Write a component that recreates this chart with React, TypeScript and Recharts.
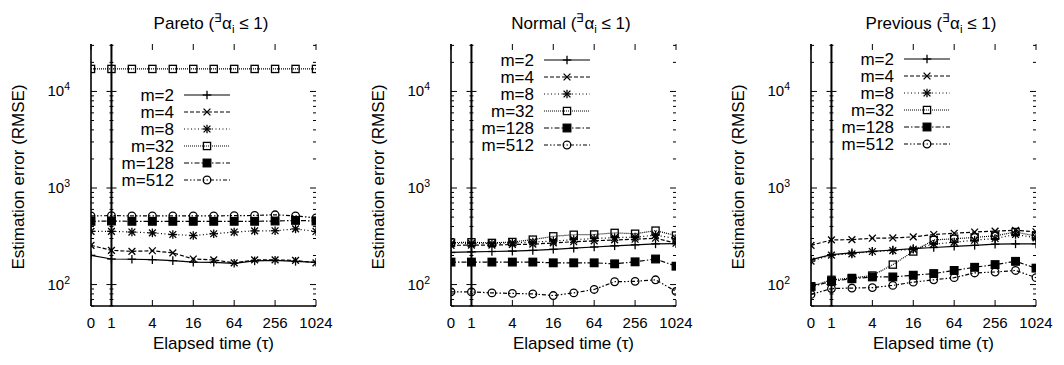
import React from 'react';
import { LineChart, Line, XAxis, YAxis, ReferenceLine } from 'recharts';

// elapsed time values (tau) at which each estimate was taken
const elapsed = [0, 1, 2, 4, 8, 16, 32, 64, 128, 256, 512, 1024];
const xTickLabels = [0, 1, 4, 16, 64, 256, 1024];
const yTicks = [
  60, 70, 80, 90, 100, 200, 300, 400, 500, 600, 700, 800, 900,
  1000, 2000, 3000, 4000, 5000, 6000, 7000, 8000, 9000, 10000, 20000, 30000,
];

// Pareto
const paretoM2 = [201, 184, 183, 181, 177, 171, 170, 166, 176, 178, 174, 170];
const paretoM4 = [255, 226, 221, 224, 213, 184, 180, 168, 180, 180, 178, 168];
const paretoM8 = [356, 356, 350, 343, 330, 322, 336, 350, 360, 361, 377, 355];
const paretoM32 = [17100, 17100, 17100, 17100, 17100, 17100, 17100, 17100, 17100, 17100, 17100, 17100];
const paretoM128 = [452, 455, 452, 452, 452, 452, 452, 452, 452, 455, 462, 455];
const paretoM512 = [515, 517, 515, 515, 515, 515, 515, 517, 520, 528, 515, 490];

// Normal
const normalM2 = [215, 218, 220, 222, 226, 232, 238, 245, 252, 258, 264, 265];
const normalM4 = [255, 256, 256, 260, 262, 270, 278, 284, 290, 295, 302, 268];
const normalM8 = [265, 268, 266, 270, 276, 282, 292, 300, 306, 310, 325, 300];
const normalM32 = [272, 274, 270, 276, 292, 316, 328, 330, 343, 336, 362, 322];
const normalM128 = [171, 171, 171, 171, 171, 168, 168, 168, 164, 172, 184, 155];
const normalM512 = [84, 84, 82, 81, 80, 77, 82, 89, 107, 108, 112, 85];

// Previous
const previousM2 = [181, 204, 213, 221, 228, 236, 242, 249, 255, 262, 264, 264];
const previousM4 = [255, 290, 292, 302, 304, 312, 330, 340, 350, 358, 365, 352];
const previousM8 = [175, 202, 208, 220, 225, 232, 262, 275, 288, 300, 330, 305];
const previousM32 = [96, 112, 117, 124, 161, 220, 290, 298, 308, 320, 350, 318];
const previousM128 = [95, 108, 115, 120, 120, 125, 130, 140, 151, 161, 174, 148];
const previousM512 = [79, 91, 92, 93, 98, 106, 112, 118, 132, 135, 140, 118];

const FONT = '"Liberation Sans", Arial, Helvetica, sans-serif';
const LABEL_SIZE = 17;
const TICK_SIZE = 15;
const CHART_W = 360;
const CHART_H = 365;
const MARGIN = { top: 44, right: 44, bottom: 0, left: 0 };
const Y_AXIS_W = 91;
const X_AXIS_H = 59;
const PLOT_W = CHART_W - MARGIN.right - Y_AXIS_W;
const PLOT_H = CHART_H - MARGIN.top - X_AXIS_H;
const X_MIN = -1;
const X_MAX = 10;

// tau = 0 sits one step left of tau = 1 on the log2 axis
const toPos = (t: number) => (t === 0 ? -1 : Math.log2(t));

const seriesStyles = [
  { key: 'm2', label: 'm=2', dash: undefined, marker: 'plus' },
  { key: 'm4', label: 'm=4', dash: '4 2', marker: 'cross' },
  { key: 'm8', label: 'm=8', dash: '1 2.5', marker: 'star' },
  { key: 'm32', label: 'm=32', dash: '1 1', marker: 'square' },
  { key: 'm128', label: 'm=128', dash: '5 2 1.5 2', marker: 'fsquare' },
  { key: 'm512', label: 'm=512', dash: '4 2 1.5 2 1.5 2', marker: 'circle' },
];

const panels = [
  { title: 'Pareto', legendTop: 95, values: [paretoM2, paretoM4, paretoM8, paretoM32, paretoM128, paretoM512] },
  { title: 'Normal', legendTop: 60, values: [normalM2, normalM4, normalM8, normalM32, normalM128, normalM512] },
  { title: 'Previous', legendTop: 59, values: [previousM2, previousM4, previousM8, previousM32, previousM128, previousM512] },
];

function Marker({ cx, cy, kind }: { cx: number; cy: number; kind: string }) {
  if (cx == null || cy == null) return null;
  const p = 4.3;
  const c = 3.4;
  const plus = (
    <>
      <line x1={cx - p} y1={cy} x2={cx + p} y2={cy} />
      <line x1={cx} y1={cy - p} x2={cx} y2={cy + p} />
    </>
  );
  const cross = (
    <>
      <line x1={cx - c} y1={cy - c} x2={cx + c} y2={cy + c} />
      <line x1={cx - c} y1={cy + c} x2={cx + c} y2={cy - c} />
    </>
  );
  return (
    <g stroke="#000" strokeWidth={1.3} fill="none">
      {kind === 'plus' && plus}
      {kind === 'cross' && cross}
      {kind === 'star' && (
        <>
          {plus}
          {cross}
        </>
      )}
      {kind === 'square' && <rect x={cx - 3.6} y={cy - 3.6} width={7.2} height={7.2} />}
      {kind === 'fsquare' && <rect x={cx - 3.8} y={cy - 3.8} width={7.6} height={7.6} fill="#000" />}
      {kind === 'circle' && <circle cx={cx} cy={cy} r={3.8} />}
    </g>
  );
}

function YTick(props: any) {
  const { x, y, payload } = props;
  const v = payload.value;
  const exp = Math.log10(v);
  const major = Math.abs(exp - Math.round(exp)) < 1e-9;
  const len = major ? 6 : 3;
  const oneX = x + (PLOT_W * (0 - X_MIN)) / (X_MAX - X_MIN);
  const right = x + PLOT_W;
  return (
    <g>
      <g stroke="#000" strokeWidth={1}>
        <line x1={x} y1={y} x2={x + len} y2={y} />
        <line x1={oneX - len + 1} y1={y} x2={oneX + len - 1} y2={y} />
        <line x1={right - len} y1={y} x2={right} y2={y} />
      </g>
      {major && (
        <text x={x - 21} y={y + 5} textAnchor="end" fontSize={TICK_SIZE} fontFamily={FONT} fill="#000">
          10
          <tspan dy={-6} fontSize={10.5}>
            {Math.round(exp)}
          </tspan>
        </text>
      )}
    </g>
  );
}

function XTick(props: any) {
  const { x, y, payload } = props;
  const t = payload.value === -1 ? 0 : Math.pow(2, payload.value);
  return (
    <g>
      <g stroke="#000" strokeWidth={1}>
        <line x1={x} y1={y} x2={x} y2={y - 6} />
        <line x1={x} y1={y - PLOT_H} x2={x} y2={y - PLOT_H + 6} />
      </g>
      <text x={x} y={y + 22} textAnchor="middle" fontSize={TICK_SIZE} fontFamily={FONT} fill="#000">
        {String(t)}
      </text>
    </g>
  );
}

function Overlay({ title, legendTop }: { title: string; legendTop: number }) {
  return (
    <svg
      width={CHART_W}
      height={CHART_H}
      style={{ position: 'absolute', left: 0, top: 0, pointerEvents: 'none' }}
      fontFamily={FONT}
    >
      <text x={211} y={29} textAnchor="middle" fontSize={LABEL_SIZE} fill="#000">
        {title} (
        <tspan dy={-7} fontSize={11.5}>
          ∃
        </tspan>
        <tspan dy={7}>α</tspan>
        <tspan dy={4} fontSize={11.5}>
          i
        </tspan>
        <tspan dy={-4}> ≤ 1)</tspan>
      </text>
      {seriesStyles.map((s, i) => {
        const cy = legendTop + i * 17;
        return (
          <g key={s.key}>
            <text x={174} y={cy + 6} textAnchor="end" fontSize={LABEL_SIZE} fill="#000">
              {s.label}
            </text>
            <line x1={184} y1={cy} x2={230} y2={cy} stroke="#000" strokeWidth={1.2} strokeDasharray={s.dash} />
            <Marker cx={207} cy={cy} kind={s.marker} />
          </g>
        );
      })}
    </svg>
  );
}

function Panel({ title, legendTop, values }: { title: string; legendTop: number; values: number[][] }) {
  const data = elapsed.map((t, i) => {
    const row: any = { pos: toPos(t) };
    seriesStyles.forEach((s, j) => {
      row[s.key] = values[j][i];
    });
    return row;
  });

  return (
    <div style={{ position: 'relative', width: CHART_W, height: CHART_H, flex: 'none' }}>
      <LineChart width={CHART_W} height={CHART_H} data={data} margin={MARGIN}>
        <XAxis
          dataKey="pos"
          type="number"
          domain={[X_MIN, X_MAX]}
          ticks={xTickLabels.map(toPos)}
          interval={0}
          height={X_AXIS_H}
          tickSize={0}
          tickMargin={0}
          tick={XTick}
          axisLine={{ stroke: '#000', strokeWidth: 1.6 }}
          allowDataOverflow
          label={{
            content: (p: any) => {
              const vb = p.viewBox;
              return (
                <text x={vb.x + vb.width / 2 + 10} y={vb.y + 43} textAnchor="middle" fontSize={LABEL_SIZE} fontFamily={FONT} fill="#000">
                  Elapsed time (τ)
                </text>
              );
            },
          }}
        />
        <XAxis
          xAxisId="top"
          orientation="top"
          dataKey="pos"
          type="number"
          domain={[X_MIN, X_MAX]}
          height={0}
          tick={false}
          tickLine={false}
          axisLine={{ stroke: '#000', strokeWidth: 1.6 }}
        />
        <YAxis
          type="number"
          scale="log"
          domain={[60, 31000]}
          ticks={yTicks}
          interval={0}
          width={Y_AXIS_W}
          tickSize={0}
          tickMargin={0}
          tick={YTick}
          axisLine={{ stroke: '#000', strokeWidth: 1.6 }}
          allowDataOverflow
          label={{
            content: (p: any) => {
              const vb = p.viewBox;
              const cx = vb.x + 24;
              const cy = vb.y + vb.height / 2 + 2;
              return (
                <text
                  x={cx}
                  y={cy}
                  transform={`rotate(-90, ${cx}, ${cy})`}
                  textAnchor="middle"
                  fontSize={LABEL_SIZE}
                  fontFamily={FONT}
                  fill="#000"
                >
                  Estimation error (RMSE)
                </text>
              );
            },
          }}
        />
        <YAxis
          yAxisId="right"
          orientation="right"
          type="number"
          scale="log"
          domain={[60, 31000]}
          width={0}
          tick={false}
          tickLine={false}
          axisLine={{ stroke: '#000', strokeWidth: 1.6 }}
        />
        <ReferenceLine x={0} stroke="#000" strokeWidth={2} />
        {seriesStyles.map((s) => (
          <Line
            key={s.key}
            dataKey={s.key}
            stroke="#000"
            strokeWidth={1.2}
            strokeDasharray={s.dash}
            isAnimationActive={false}
            activeDot={false}
            dot={(p: any) => <Marker key={`${s.key}-${p.index}`} cx={p.cx} cy={p.cy} kind={s.marker} />}
          />
        ))}
      </LineChart>
      <Overlay title={title} legendTop={legendTop} />
    </div>
  );
}

export default function App() {
  return (
    <div
      style={{
        position: 'absolute',
        left: 0,
        top: 0,
        width: 1064,
        height: 365,
        overflow: 'hidden',
        background: '#fff',
        display: 'flex',
      }}
    >
      {panels.map((p) => (
        <Panel key={p.title} title={p.title} legendTop={p.legendTop} values={p.values} />
      ))}
    </div>
  );
}
